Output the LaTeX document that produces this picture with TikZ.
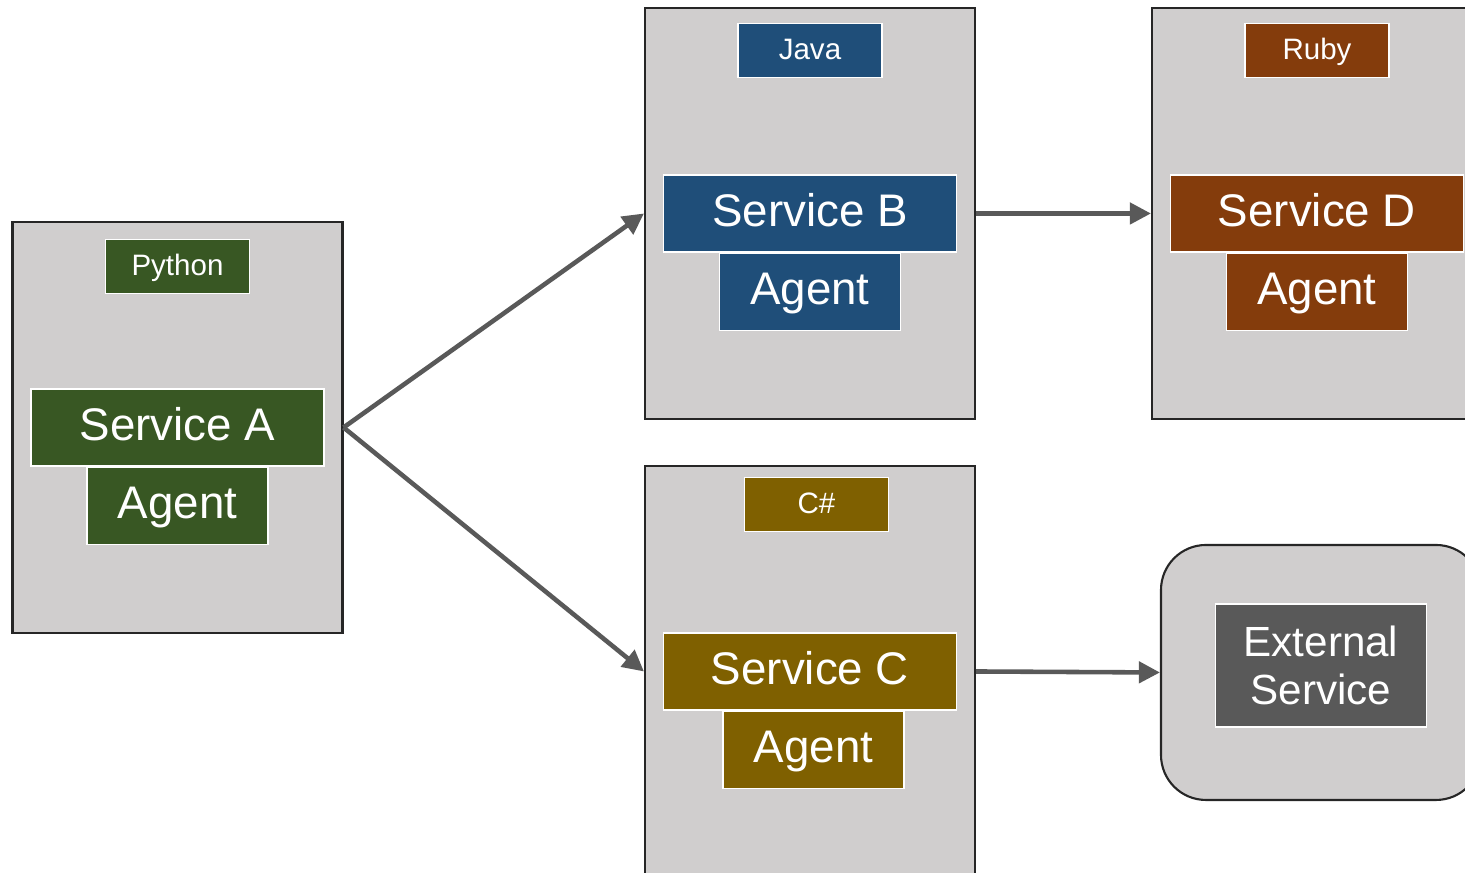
\documentclass[tikz,border=0pt]{standalone}
\usepackage{fontspec}
\setmainfont{Liberation Sans}
\usetikzlibrary{positioning,arrows.meta}

\definecolor{hostfill}{HTML}{D0CECE}
\definecolor{hostline}{HTML}{262626}
\definecolor{flowgray}{HTML}{595959}
\definecolor{pygreen}{HTML}{385723}
\definecolor{javablue}{HTML}{1F4E79}
\definecolor{rubyred}{HTML}{843C0C}
\definecolor{csgold}{HTML}{7F6000}
\definecolor{extgray}{HTML}{595959}

\begin{document}
\begin{tikzpicture}[
    host/.style={draw=hostline, fill=hostfill, line width=0.6pt, inner sep=0pt,
                 minimum width=3.3cm, minimum height=4.11cm},
    lang/.style={fill=#1, draw=white, line width=0.3pt, text=white, inner sep=0pt,
                 minimum width=1.44cm, minimum height=0.54cm,
                 text height=0.72em, text depth=0.2em, font=\fontsize{8.4}{10}\selectfont},
    svc/.style={fill=#1, draw=white, line width=0.3pt, text=white, inner sep=0pt,
                minimum width=2.93cm, minimum height=0.77cm,
                text height=0.72em, text depth=0pt, font=\fontsize{13}{15}\selectfont},
    agent/.style={svc=#1, minimum width=1.81cm},
    flow/.style={draw=flowgray, line width=1.3pt, -{Triangle[length=6pt,width=6pt]}}]
  \useasboundingbox (0,0) rectangle (14.65,8.73);
  \clip (0,0) rectangle (14.65,8.73); % right and bottom boxes run off the page

  % hosts, one per language
  \node[host] (py) at (1.775,4.455) {};
  \node[host] (java) at (8.10,6.595) {};
  \node[host] (ruby) at (13.17,6.595) {};
  \node[host] (cs) at (8.10,2.015) {};
  \node[host, rounded corners=0.45cm, minimum width=3.2cm, minimum height=2.55cm] (ext) at (13.21,2.005) {};

  % language tags
  \node[lang=pygreen, below=0.18cm of py.north] (pytag) {Python};
  \node[lang=javablue, below=0.16cm of java.north] (javatag) {Java};
  \node[lang=rubyred, below=0.16cm of ruby.north] (rubytag) {Ruby};
  \node[lang=csgold, below=0.12cm of cs.north, xshift=0.065cm] (cstag) {C\#};

  % services with their agents underneath
  \node[svc=pygreen] (svcA) at (py) {Service A};
  \node[agent=pygreen, below=0pt of svcA] (agentA) {Agent};
  \node[svc=javablue] (svcB) at (java) {Service B};
  \node[agent=javablue, below=0pt of svcB] (agentB) {Agent};
  \node[svc=csgold] (svcC) at (cs) {Service C};
  \node[agent=csgold, below=0pt of svcC, xshift=0.035cm] (agentC) {Agent};
  \node[svc=rubyred] (svcD) at (ruby) {Service D};
  \node[agent=rubyred, below=0pt of svcD] (agentD) {Agent};

  \node[fill=extgray, draw=white, line width=0.3pt, text=white, align=center,
        minimum width=2.11cm, minimum height=1.23cm, inner sep=0pt,
        font=\fontsize{12}{13.5}\selectfont] (extsvc) at ([yshift=0.07cm]ext.center) {External\\Service};

  % calls between hosts
  \draw[flow] (py.east) -- (java.west);
  \draw[flow] (py.east) -- (cs.west);
  \draw[flow] (java.east) -- (ruby.west);
  \draw[flow] (cs.east) -- (ext.west);
\end{tikzpicture}
\end{document}
